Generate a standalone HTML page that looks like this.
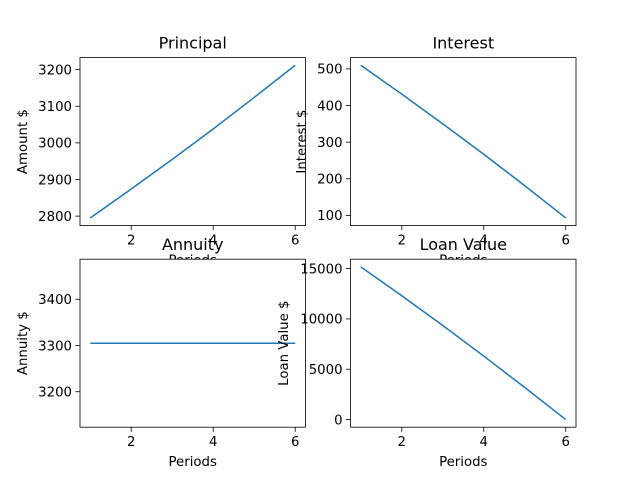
<!DOCTYPE html>
<html><head><meta charset="utf-8"><style>
body{margin:0;background:#fff}
svg{display:block;font-family:"DejaVu Sans","Liberation Sans",sans-serif}
</style></head><body>
<svg id="c" width="640" height="480" xmlns="http://www.w3.org/2000/svg"></svg>
<script>
const periods=[1,2,3,4,5,6];
const principal=[2795,2874,2955,3038,3124,3212];
const interest=[510,431,350,267,181,93];
const annuity=[3305,3305,3305,3305,3305,3305];
const loanValue=[15175,12301,9346,6308,3184,0];
const xTicks=[2,4,6];
const principalTicks=[2800,2900,3000,3100,3200];
const interestTicks=[100,200,300,400,500];
const annuityTicks=[3200,3300,3400];
const loanTicks=[0,5000,10000,15000];

const NS="http://www.w3.org/2000/svg";
const svg=document.getElementById('c');
function mk(tag,attrs,parent){const e=document.createElementNS(NS,tag);for(const k in attrs)e.setAttribute(k,attrs[k]);(parent||svg).appendChild(e);return e;}
const W=225.45,H=168;
const panels=[
 {x:80,y:57.6,vals:principal,ticks:principalTicks,title:'Principal',ylab:'Amount $',ylx:22,name:'principal'},
 {x:350.55,y:57.6,vals:interest,ticks:interestTicks,title:'Interest',ylab:'Interest $',ylx:301,name:'interest'},
 {x:80,y:259.2,vals:annuity,ticks:annuityTicks,title:'Annuity',ylab:'Annuity $',ylx:22,name:'annuity'},
 {x:350.55,y:259.2,vals:loanValue,ticks:loanTicks,title:'Loan Value',ylab:'Loan Value $',ylx:283,name:'loan-value'}
];
panels.forEach(p=>{
 const g=mk('g',{});
 
 
 let lo=Math.min(...p.vals),hi=Math.max(...p.vals);
 if(hi-lo<1e-9){lo-=Math.abs(lo)*0.05;hi+=Math.abs(hi)*0.05;}
 const m=(hi-lo)*0.05;lo-=m;hi+=m;
 const xs=v=>p.x+(v-0.75)/5.5*W;
 const ys=v=>p.y+H-(v-lo)/(hi-lo)*H;
 mk('rect',{x:p.x,y:p.y,width:W,height:H,fill:'#fff'},g);
 const pts=periods.map((d,i)=>xs(d)+','+ys(p.vals[i])).join(' ');
 const line=mk('polyline',{points:pts,fill:'none',stroke:'#1f77b4','stroke-width':1.5},g);
 
 
 mk('rect',{x:p.x,y:p.y,width:W,height:H,fill:'none',stroke:'#000','stroke-width':0.8},g);
 xTicks.forEach(t=>{
  const X=xs(t);
  mk('line',{x1:X,x2:X,y1:p.y+H,y2:p.y+H+4.7,stroke:'#000','stroke-width':0.8},g);
  const tx=mk('text',{x:X,y:p.y+H+19,'font-size':13.3,'text-anchor':'middle'},g);tx.textContent=t;
  
  
 });
 p.ticks.forEach(t=>{
  const Y=ys(t);
  mk('line',{x1:p.x,x2:p.x-4.7,y1:Y,y2:Y,stroke:'#000','stroke-width':0.8},g);
  const tx=mk('text',{x:p.x-8,y:Y+4.8,'font-size':13.3,'text-anchor':'end'},g);tx.textContent=t;
  
  
 });
 const xl=mk('text',{x:p.x+W/2,y:p.y+H+39,'font-size':13.3,'text-anchor':'middle'},g);xl.textContent='Periods';
 
 
 const yl=mk('text',{x:0,y:0,'font-size':13.3,'text-anchor':'middle',transform:`translate(${p.ylx+5},${p.y+H/2}) rotate(-90)`},g);yl.textContent=p.ylab;
 
 
 const ti=mk('text',{x:p.x+W/2,y:p.y-9,'font-size':16,'text-anchor':'middle'},g);ti.textContent=p.title;
 
 
});
</script>
</body></html>
